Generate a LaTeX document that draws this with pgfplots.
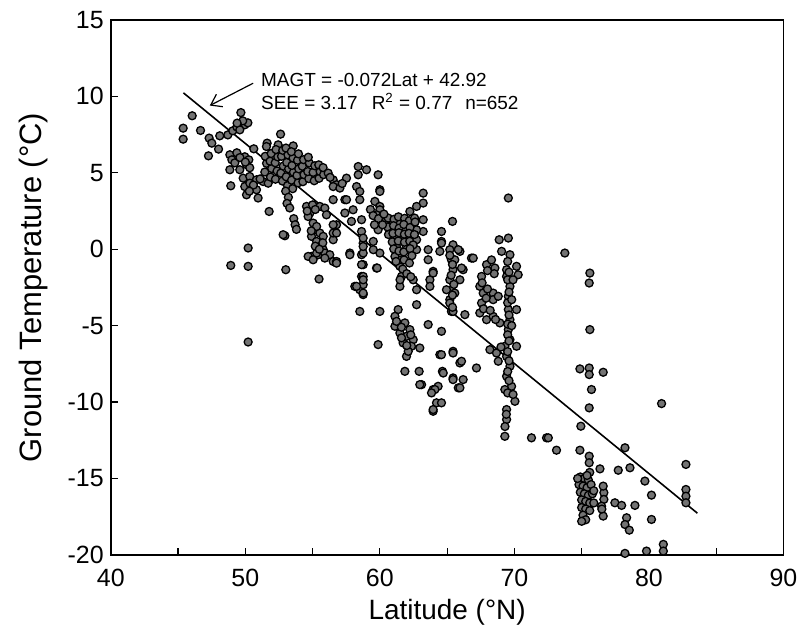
\documentclass[border=0pt]{standalone}
\usepackage{fontspec}
\setmainfont{Liberation Sans}
\usepackage{pgfplots}
\pgfplotsset{compat=1.18}
\usetikzlibrary{arrows.meta}

\begin{document}
\begin{tikzpicture}
% fixed page frame, reference proportions 804x641
\path (-55.5pt,-42.5pt) rectangle (346.5pt,278pt);
\begin{axis}[
    at={(0,0)}, anchor=south west,
    width=337pt, height=268pt, scale only axis,
    xmin=40, xmax=90, ymin=-20, ymax=15,
    xtick={40,50,...,90}, minor xtick={45,55,...,85},
    ytick={-20,-15,...,15},
    tick pos=left, tick align=inside,
    major tick length=3.5pt, minor tick length=3.5pt,
    tick style={black, line width=0.6pt},
    axis line style={line width=0.9pt},
    /pgf/number format/assume math mode=true,
    ticklabel style={font=\fontsize{12.5}{14}\selectfont},
    xticklabel style={yshift=-3.5pt},
    xlabel={Latitude (°N)},
    ylabel={Ground Temperature (°C)},
    xlabel style={font=\fontsize{14}{16}\selectfont, at={(axis description cs:0.5,-0.1213)}, anchor=base},
    ylabel style={font=\fontsize{15.5}{17}\selectfont, at={(axis description cs:-0.1024,0.5)}, anchor=base},
    clip=false,
]
\addplot[only marks, mark=*, mark size=2.0pt,
    mark options={fill=black!55, draw=black, line width=0.65pt}] coordinates {
(45.38,7.92)(45.38,7.20)(46.05,8.73)(46.67,7.77)(47.31,7.27)(47.51,6.94)(48.01,6.55)(47.26,6.11)(48.10,7.42)
(48.70,7.48)(49.07,7.75)(49.37,8.0)(49.67,8.2)(49.96,8.14)(50.19,8.27)(49.59,7.81)(49.81,8.4)(49.39,8.25)(49.67,8.94)
(48.85,6.18)(49.0,5.85)(49.37,6.31)(49.96,6.05)(50.26,5.85)(50.11,5.52)(50.33,5.33)(49.59,5.20)(48.85,5.20)(49.22,5.65)(49.6,6.0)(50.0,5.7)
(48.92,4.15)
(49.84,4.65)(50.33,4.76)(50.83,4.54)(51.32,4.43)(49.96,4.10)(50.09,3.56)(50.83,3.89)(50.95,3.35)(50.33,4.32)(51.70,4.32)(50.6,4.2)(50.3,3.8)(51.1,4.6)
(51.77,2.47)(52.62,7.53)(51.62,6.94)(50.63,6.57)(53.56,6.76)(51.57,6.72)(52.44,6.83)
(51.45,5.05)(51.58,5.62)(51.48,6.08)
(51.87,4.72)(51.96,5.28)(51.84,5.76)(51.92,6.26)
(52.24,4.58)(52.36,5.12)(52.22,5.66)(52.41,6.04)(52.28,6.52)
(52.76,4.46)(52.64,4.98)(52.82,5.44)(52.69,6.08)(52.78,6.47)
(53.14,4.16)(53.04,4.74)(53.22,5.26)(53.08,5.68)(53.17,6.17)(53.02,6.62)
(53.52,3.96)(53.44,4.52)(53.58,5.04)(53.47,5.48)(53.55,5.97)(53.42,6.38)
(53.92,4.34)(53.84,4.83)(53.97,5.26)(53.88,5.82)(53.95,6.24)
(54.28,4.42)(54.36,4.88)(54.24,5.43)(54.33,5.86)
(54.72,4.62)(54.64,5.08)(54.76,5.64)(54.68,6.02)
(55.12,4.48)(55.04,5.03)(55.16,5.46)
(55.48,4.64)(55.56,5.08)(55.46,5.52)(55.82,4.88)(55.78,5.34)
(53.0,3.8)(53.2,3.4)(53.1,3.0)(53.3,2.7)(53.6,2.0)(53.7,1.6)(53.8,1.3)(52.94,0.88)(52.81,0.95)
(54.55,2.80)(54.80,2.37)(55.04,1.71)(55.17,1.27)(55.54,1.06)(55.79,0.84)(55.67,0.40)(55.79,-0.03)(55.41,-0.36)(54.92,-0.47)
(55.54,2.80)(55.91,2.69)(56.03,2.25)(54.92,0.84)(55.30,0.51)(54.67,2.14)(55.30,1.49)(55.76,0.42)(55.91,-0.25)(56.28,-0.36)
(54.67,-0.47)(55.30,-0.25)(55.91,-0.58)(56.53,-0.80)(55.04,-0.69)(54.6,2.5)(55.0,2.9)(55.2,2.6)(54.9,1.2)(55.2,0.2)(55.5,0.0)
(50.21,0.08)(48.92,-1.06)(50.21,-1.12)(53.01,-1.34)(55.48,-1.95)(50.21,-6.07)
(56.16,4.98)(56.53,4.54)(56.78,4.22)(57.52,4.65)(58.39,5.41)(59.01,5.20)(58.39,4.87)(58.27,4.10)(58.51,3.78)(59.87,4.87)
(60.0,3.89)(59.63,3.13)(58.51,3.24)(56.53,4.10)(57.03,4.0)(57.2,4.3)(56.3,4.7)
(57.40,3.24)(56.53,3.24)(57.40,2.37)(56.78,1.60)(56.53,0.62)(56.53,1.06)(56.53,1.60)(56.78,1.06)(56.78,-0.80)(56.78,-0.91)
(57.77,-0.25)(57.77,-0.36)(58.64,-1.78)(58.51,-2.65)(59.75,-1.23)(60.0,-0.25)
(58.64,-0.36)(58.76,-1.01)(58.76,-1.78)(58.76,-2.32)(58.76,-2.97)(58.14,-2.43)(58.64,1.16)(58.76,0.40)(57.89,1.82)(59.51,-0.03)
(59.51,0.51)(58.76,-0.25)(58.76,0.18)(58.64,-1.01)(58.27,-2.43)(58.76,-2.0)(58.76,-2.87)(59.80,-1.23)
(57.52,3.24)(58.01,2.58)(58.64,1.93)(58.76,0.73)(60.0,2.80)(60.24,1.93)(60.0,3.78)
(58.51,-4.07)(60.0,-4.07)(61.36,-3.95)(62.73,-3.63)(59.87,-6.24)
(63.22,3.67)(63.22,3.02)(62.23,2.47)(62.73,2.80)(63.22,1.93)(63.22,1.16)(60.0,2.58)(59.75,2.25)(60.49,1.93)(61.49,1.71)
(62.48,1.60)(59.87,1.27)(60.74,1.27)(61.73,1.38)(62.73,1.27)(61.24,0.84)(61.98,0.84)(62.73,0.62)(61.24,0.18)(61.98,0.18)
(62.73,-0.03)(61.12,-0.47)(61.49,-1.12)(61.61,-1.78)(61.49,-2.43)(61.61,-0.69)(62.48,-2.0)(62.73,-2.65)
(60.62,2.04)(61.05,1.96)(61.38,2.12)(61.84,2.02)(62.18,1.86)(62.58,2.04)
(60.56,1.46)(61.02,1.54)(61.43,1.38)(61.78,1.62)(62.24,1.42)(62.62,1.78)
(60.64,0.96)(60.97,1.04)(61.42,1.08)(61.82,0.98)(62.16,1.04)(62.57,0.96)
(60.92,0.48)(61.37,0.54)(61.83,0.46)(62.22,0.52)(62.47,0.28)
(61.03,0.02)(61.42,-0.12)(61.78,-0.18)(62.24,0.04)(62.38,-0.42)
(61.2,-0.8)(61.8,-0.7)(62.2,-0.9)(61.7,-1.3)(62.0,-1.6)(61.5,-2.0)(62.3,-1.8)
(59.3,2.6)(59.5,2.2)(59.9,2.0)(60.2,1.6)(60.3,2.3)(59.6,1.6)
(63.59,-0.03)(63.59,-0.69)(63.96,-1.45)(63.72,-2.0)(63.72,-2.43)(64.58,1.16)(64.58,0.51)(64.46,-0.14)(65.40,1.82)(63.96,-1.56)
(61.12,-4.39)(61.12,-5.04)(61.86,-4.82)(61.49,-5.48)(61.98,-5.70)(62.48,-5.92)(61.73,-6.13)(62.35,-6.35)(62.97,-6.46)(61.98,-7.01)
(62.11,-6.68)(61.24,-4.72)(61.61,-5.80)(62.23,-5.26)(61.6,-5.1)(62.0,-6.3)(62.3,-5.6)
(61.86,-7.99)(62.92,-7.99)(63.10,-8.86)(63.96,-9.18)(64.33,-8.97)(64.21,-10.05)(63.96,-10.60)(63.59,-4.93)(64.58,-5.37)(64.46,-6.90)
(64.65,-7.99)(65.44,-6.68)(65.44,-8.42)(65.95,-7.44)(62.97,-8.86)(64.09,-9.18)(63.84,-9.40)(63.96,-10.49)(65.44,-6.79)(66.07,-7.33)
(67.18,-7.77)(64.71,-8.1)(65.44,-8.53)(66.19,-8.53)(65.83,-9.07)(65.95,-9.07)(64.58,-10.05)(64.58,-6.90)
(64.58,0.40)(65.44,0.29)(65.95,-0.14)(65.32,-0.69)(65.44,-1.34)(66.19,-1.34)(65.20,-2.0)(65.32,-2.65)(65.20,-3.30)(65.32,-4.07)
(66.32,-4.28)(66.81,-0.58)(65.20,-0.03)(65.83,-0.03)(65.57,-0.69)(66.07,-1.23)(65.95,-2.0)(64.95,-2.65)(65.57,-2.87)(65.20,-3.52)
(65.44,-4.07)(65.4,-1.0)(65.3,-1.7)(65.5,-2.3)(65.4,-3.0)(65.4,-3.8)(65.2,-0.4)(66.94,-0.58)
(69.55,3.35)(68.87,0.62)(69.55,0.73)(69.05,-0.14)(69.67,-0.36)(67.93,-1.01)(68.55,-1.23)(69.42,-1.34)(70.16,-1.12)(70.28,-1.67)
(67.56,-1.78)(69.42,-1.78)(69.67,-2.43)(69.55,-3.08)(69.55,-3.95)(70.16,-3.95)(69.67,-4.61)(69.55,-5.26)(69.67,-5.92)(70.16,-6.35)
(69.29,-6.35)(69.42,-7.01)(69.67,-7.66)(69.42,-8.31)(69.79,-8.97)(69.29,-9.18)(70.04,-9.95)(69.42,-10.49)(69.42,-11.14)(69.29,-12.24)
(71.27,-12.34)(72.39,-12.34)
(69.5,-0.8)(69.6,-1.5)(69.5,-2.0)(69.6,-2.8)(69.5,-3.5)(69.6,-4.3)(69.5,-4.9)(69.5,-5.6)(69.6,-6.0)(69.5,-6.7)
(69.6,-7.3)(69.5,-8.0)(69.6,-8.6)(69.5,-9.4)(69.9,-9.5)(69.8,-5.0)(69.8,-3.3)(69.9,-2.0)(69.3,-11.6)(69.4,-10.8)
(67.43,-2.43)(67.68,-2.87)(67.56,-3.52)(68.42,-2.87)(68.42,-3.30)(68.80,-3.08)(67.43,-4.17)(67.93,-4.61)(68.42,-4.39)(68.92,-4.82)
(68.18,-6.57)(68.67,-6.79)(68.80,-7.33)(67.9,-3.2)(68.0,-2.6)(67.7,-3.9)(68.2,-4.0)(68.6,-4.6)(69.0,-6.4)(68.5,-1.6)
(68.0,-1.4)(68.3,-0.7)(67.6,-2.2)
(73.75,-0.25)(75.61,-1.56)(75.56,-2.21)(75.61,-5.26)(74.87,-7.83)(75.56,-7.77)(75.56,-8.20)(76.60,-8.05)(75.73,-9.18)(80.94,-10.10)
(75.56,-10.38)(74.94,-11.58)(72.52,-12.34)(73.13,-13.15)(74.87,-13.15)(75.56,-13.54)(75.56,-13.97)(76.36,-14.37)(77.72,-14.46)(78.59,-14.30)
(78.22,-12.99)(79.70,-15.17)(80.19,-16.09)(78.96,-16.76)(77.47,-16.59)(77.97,-16.76)(78.34,-17.57)(78.22,-18.01)(78.54,-18.38)(80.19,-17.68)
(82.75,-14.08)(82.75,-15.72)(82.75,-16.16)(82.75,-16.59)(76.65,-15.93)(76.65,-16.37)(76.48,-16.81)(76.60,-17.46)(76.6,-15.5)(76.5,-17.0)
(74.9,-14.9)(75.2,-15.0)(75.5,-15.1)(74.8,-15.4)(75.1,-15.5)(75.4,-15.6)(75.7,-15.4)(74.9,-15.9)(75.2,-16.0)(75.5,-16.1)
(75.8,-16.0)(75.0,-16.4)(75.3,-16.5)(75.6,-16.6)(75.0,-16.9)(75.3,-17.0)(75.6,-17.1)(75.1,-17.4)(75.3,-17.7)(75.0,-17.8)
(74.7,-15.0)(75.9,-15.8)(75.9,-16.6)(75.6,-14.6)(75.4,-14.8)
(78.22,-19.9)(79.82,-19.75)(81.07,-19.31)(81.07,-19.75)
};
% regression line
\addplot[black, line width=0.8pt] coordinates {(45.4,10.23) (83.6,-17.27)};
% equation and fit statistics
\node[anchor=base west, inner sep=0, font=\fontsize{9.5}{11}\selectfont] at (axis cs:51.15,10.64) {MAGT = -0.072Lat + 42.92};
\node[anchor=base west, inner sep=0, font=\fontsize{9.5}{11}\selectfont] at (axis cs:51.15,9.12) {SEE = 3.17};
\node[anchor=base west, inner sep=0, font=\fontsize{9.5}{11}\selectfont] at (axis cs:59.37,9.12) {R\textsuperscript{2} = 0.77};
\node[anchor=base west, inner sep=0, font=\fontsize{9.5}{11}\selectfont] at (axis cs:66.32,9.12) {n=652};
\draw[-{Straight Barb[length=5pt,width=7pt]}, line width=0.6pt] (axis cs:50.58,10.86) -- (axis cs:47.36,9.40);
\end{axis}
\end{tikzpicture}
\end{document}
